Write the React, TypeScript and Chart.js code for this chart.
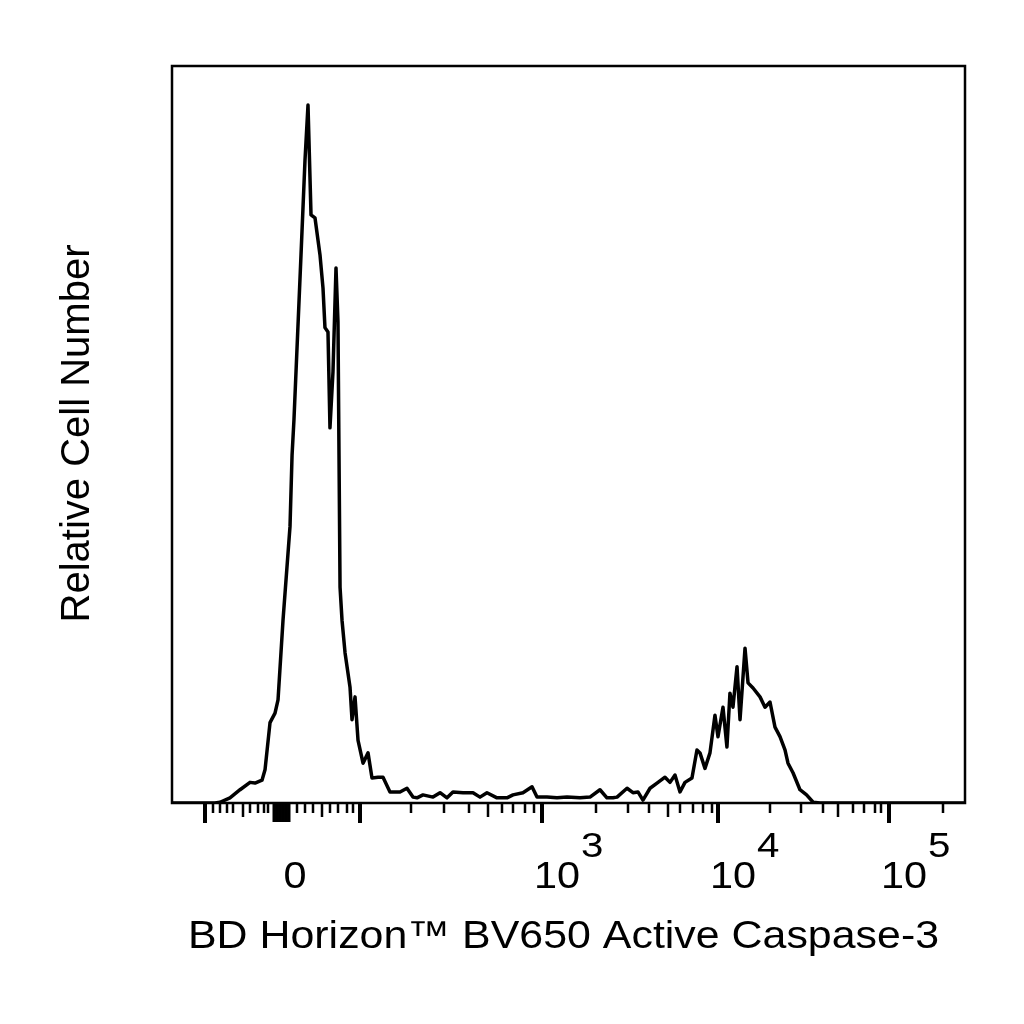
import React, { useEffect, useRef } from "react";
import { Chart, registerables } from "chart.js";

Chart.register(...registerables);

// x in display channels (0..1000 across the biexponential axis), y in relative cell number (0..100)
const X_CHANNELS = [
  0, 54.2, 60.5, 73.1, 85.8, 98.4, 104.7, 113.5, 117.3, 123.6, 129.9, 133.7, 140.0, 148.8, 151.4,
  153.8, 162.7, 167.7, 171.5, 175.3, 180.3, 186.6, 190.4, 192.9, 196.7, 199.2, 203.0, 206.8, 209.3,
  210.6, 211.9, 214.4, 218.2, 224.5, 227.0, 230.8, 234.6, 240.9, 247.2, 252.2, 259.8, 266.1, 274.9,
  287.5, 296.3, 303.9, 309.0, 316.5, 329.1, 338.0, 346.8, 354.3, 367.0, 379.6, 388.4, 397.2, 409.8,
  422.4, 430.0, 442.6, 454.0, 460.3, 472.9, 485.5, 498.1, 514.5, 527.1, 539.7, 548.5, 556.1, 561.2,
  573.8, 581.3, 587.6, 593.9, 602.8, 611.6, 621.7, 628.0, 634.3, 640.6, 646.9, 655.7, 662.0, 665.8,
  672.1, 678.4, 684.7, 688.5, 694.8, 699.8, 703.6, 707.4, 712.5, 716.3, 722.6, 726.4, 732.7, 741.5,
  747.8, 754.1, 760.4, 766.7, 773.0, 776.8, 783.1, 791.9, 800.2, 808.5, 817.3, 1000,
];
const CELL_COUNTS = [
  0, 0, 0.1, 0.7, 1.8, 2.8, 2.7, 3.1, 4.5, 10.9, 12.2, 14.0, 24.8, 37.5, 47.2,
  52.0, 74.4, 87.2, 94.7, 79.8, 79.4, 74.4, 69.9, 64.5, 63.9, 50.9, 58.5, 72.6, 65.3,
  47.2, 29.3, 24.8, 20.4, 15.7, 11.3, 14.4, 8.5, 5.4, 6.8, 3.4, 3.5, 3.5, 1.5,
  1.5, 2.0, 0.8, 0.7, 1.1, 0.8, 1.4, 0.7, 1.5, 1.4, 1.4, 0.8, 1.4, 0.7,
  0.7, 1.1, 1.4, 2.2, 0.8, 0.8, 0.7, 0.8, 0.7, 0.8, 1.8, 0.7, 0.7, 0.8,
  2.0, 1.4, 1.5, 0.4, 2.0, 2.7, 3.5, 2.8, 3.8, 1.5, 2.8, 3.4, 7.2, 6.8,
  4.7, 6.8, 11.9, 9.0, 13.0, 7.6, 14.9, 13.0, 18.5, 11.3, 21.0, 16.3, 15.6, 14.4,
  13.0, 13.7, 10.3, 9.0, 7.2, 5.4, 4.1, 1.8, 1.1, 0.1, 0, 0,
];

// axis tick marks (display channels)
const MAJOR_TICKS = [41.6, 237.1, 466.6, 688.5, 904.2];
const ZERO_TICKS = [128.6, 132.4, 136.2, 140.0, 143.8, 147.6];
const MID_TICKS = [89.5, 189.2, 398.5, 625.5, 839.8];
const MINOR_TICKS = [
  51.7, 60.5, 69.4, 76.9, 98.4, 108.4, 116.0, 121.0,
  157.6, 167.7, 177.8, 199.2, 209.3, 220.7, 228.2,
  301.4, 343.0, 374.5, 416.1, 430.0, 445.1, 456.5,
  534.7, 575.0, 601.5, 640.6, 657.0, 669.6, 681.0,
  754.1, 793.2, 820.9, 858.8, 872.6, 886.5, 894.1,
  972.2,
];

// tick labels
const LABEL_POSITIONS = [155.1, 466.6, 688.5, 904.2];
const LABEL_BASES = ["0", "10", "10", "10"];
const LABEL_EXPONENTS = ["", "3", "4", "5"];

const X_TITLE = "BD Horizon™ BV650 Active Caspase-3";
const Y_TITLE = "Relative Cell Number";

const FONT = '"Liberation Sans", Arial, Helvetica, sans-serif';

function drawStretched(
  ctx: CanvasRenderingContext2D,
  text: string,
  x: number,
  y: number,
  size: number,
  sx: number,
  align: "left" | "center"
): number {
  ctx.save();
  ctx.font = `${size}px ${FONT}`;
  const w = ctx.measureText(text).width * sx;
  const left = align === "center" ? x - w / 2 : x;
  ctx.translate(left, y);
  ctx.scale(sx, 1);
  ctx.textAlign = "left";
  ctx.textBaseline = "alphabetic";
  ctx.fillStyle = "#000";
  ctx.fillText(text, 0, 0);
  ctx.restore();
  return w;
}

const axisDecor = {
  id: "axisDecor",
  afterDatasetsDraw(chart: any) {
    const { ctx, chartArea: a } = chart;
    const x = chart.scales.x;
    ctx.save();
    ctx.strokeStyle = "#000";
    ctx.lineWidth = 2.5;
    ctx.strokeRect(a.left, a.top, a.right - a.left, a.bottom - a.top);

    const drawTicks = (vals: number[], len: number, w: number) => {
      ctx.lineWidth = w;
      ctx.beginPath();
      vals.forEach((v) => {
        const px = Math.round(x.getPixelForValue(v));
        ctx.moveTo(px, a.bottom);
        ctx.lineTo(px, a.bottom + len);
      });
      ctx.stroke();
    };
    drawTicks(MINOR_TICKS, 10, 2.5);
    drawTicks(MID_TICKS, 14, 2.5);
    drawTicks(ZERO_TICKS, 19, 3);
    drawTicks(MAJOR_TICKS, 20, 4);

    // tick labels
    const baseY = a.bottom + 85;
    LABEL_POSITIONS.forEach((v, i) => {
      const px = x.getPixelForValue(v);
      if (!LABEL_EXPONENTS[i]) {
        drawStretched(ctx, LABEL_BASES[i], px, baseY, 36, 1.15, "center");
      } else {
        const x0 = px - 8;
        const w = drawStretched(ctx, LABEL_BASES[i], x0, baseY, 36, 1.15, "left");
        drawStretched(ctx, LABEL_EXPONENTS[i], x0 + w + 1, baseY - 31, 35, 1.15, "left");
      }
    });

    // x title
    drawStretched(ctx, X_TITLE, (a.left + a.right) / 2 - 5, a.bottom + 145, 39, 1.1, "center");

    // y title
    ctx.save();
    ctx.translate(a.left - 83, (a.top + a.bottom) / 2 - 1);
    ctx.rotate(-Math.PI / 2);
    ctx.font = `40px ${FONT}`;
    ctx.textAlign = "center";
    ctx.textBaseline = "alphabetic";
    ctx.fillStyle = "#000";
    ctx.fillText(Y_TITLE, 0, 0);
    ctx.restore();

    ctx.restore();
  },
};

export default function App() {
  const canvasRef = useRef<HTMLCanvasElement | null>(null);

  useEffect(() => {
    if (!canvasRef.current) return;
    const chart = new Chart(canvasRef.current, {
      type: "line",
      data: {
        datasets: [
          {
            data: X_CHANNELS.map((xv, i) => ({ x: xv, y: CELL_COUNTS[i] })),
            borderColor: "#000",
            borderWidth: 3.5,
            pointRadius: 0,
            tension: 0,
            fill: false,
            borderJoinStyle: "round",
          } as any,
        ],
      },
      options: {
        responsive: false,
        animation: false,
        devicePixelRatio: 1,
        layout: { padding: { left: 172, top: 66, right: 59, bottom: 221 } },
        plugins: { legend: { display: false }, tooltip: { enabled: false }, title: { display: false } },
        scales: {
          x: { type: "linear", min: 0, max: 1000, display: false },
          y: { type: "linear", min: 0, max: 100, display: false },
        },
      },
      plugins: [axisDecor],
    });
    return () => chart.destroy();
  }, []);

  return (
    <div style={{ position: "absolute", left: 0, top: 0, width: 1024, height: 1024, background: "#fff" }}>
      <canvas ref={canvasRef} width={1024} height={1024} />
    </div>
  );
}
